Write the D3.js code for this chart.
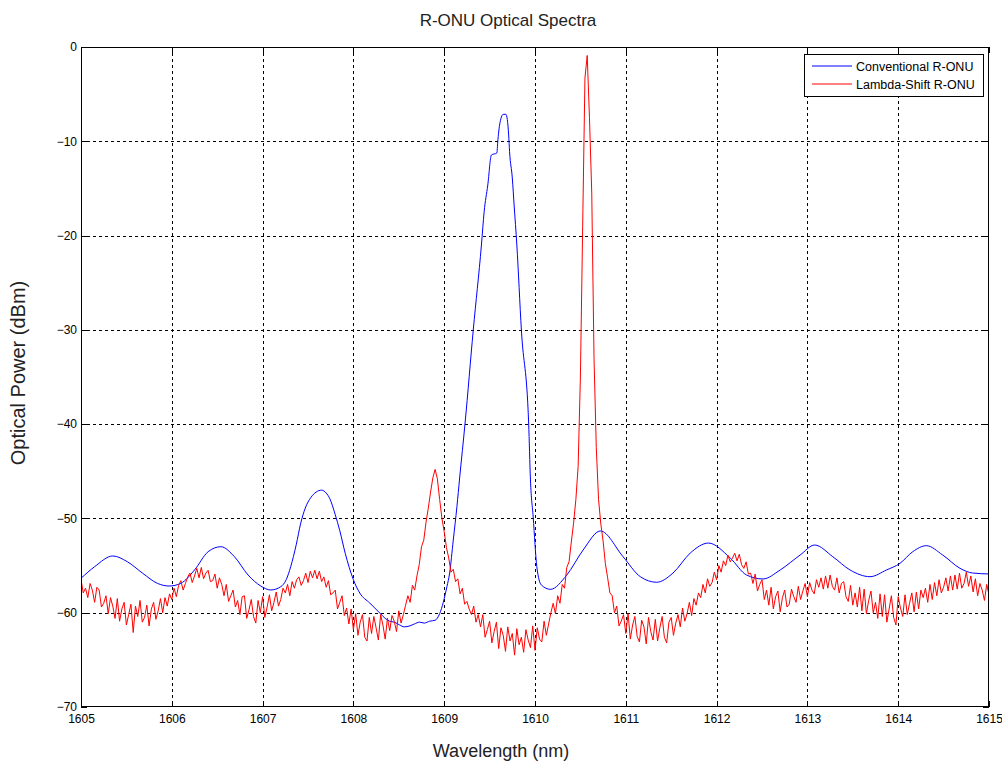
<!DOCTYPE html>
<html>
<head>
<meta charset="utf-8">
<script src="https://cdnjs.cloudflare.com/ajax/libs/d3/7.8.5/d3.min.js"></script>
<style>
  body { margin: 0; background: #fff; }
  svg { font-family: "Liberation Sans", Arial, sans-serif; }
  .grid line { stroke: #000; stroke-dasharray: 3,3; shape-rendering: crispEdges; }
  .axis path { display: none; }
  .axis line { stroke: #000; shape-rendering: crispEdges; }
  .axis text { font-size: 12px; fill: #000; font-family: "Liberation Sans", Arial, sans-serif; }
</style>
</head>
<body>
<div id="chart"></div>
<script>

var margin = { top: 47, right: 13, bottom: 55, left: 81 },
    width = 1002 - margin.left - margin.right,
    height = 762 - margin.top - margin.bottom;

var wavelengthTicks = [1605, 1606, 1607, 1608, 1609, 1610, 1611, 1612, 1613, 1614, 1615];
var powerTicks = [0, -10, -20, -30, -40, -50, -60, -70];

var seriesNames = ["Conventional R-ONU", "Lambda-Shift R-ONU"];
var seriesColors = ["#0000ff", "#ff0000"];

// Conventional R-ONU (blue)
var blueWl = [1605.00, 1605.15, 1605.35, 1605.51, 1605.68, 1605.84, 1605.97, 1606.10, 1606.25, 1606.40,
    1606.54, 1606.69, 1606.84, 1606.98, 1607.09, 1607.20, 1607.26, 1607.31, 1607.37, 1607.42,
    1607.47, 1607.53, 1607.59, 1607.65, 1607.70, 1607.74, 1607.80, 1607.85, 1607.91, 1608.00,
    1608.07, 1608.18, 1608.29, 1608.35, 1608.40, 1608.45, 1608.51, 1608.56, 1608.62, 1608.67,
    1608.73, 1608.78, 1608.84, 1608.90, 1608.95, 1609.03, 1609.06, 1609.10, 1609.14, 1609.17,
    1609.23, 1609.32, 1609.41, 1609.44, 1609.48, 1609.52, 1609.58, 1609.59, 1609.61, 1609.65,
    1609.68, 1609.71, 1609.72, 1609.75, 1609.77, 1609.80, 1609.85, 1609.93, 1609.95, 1609.98,
    1610.02, 1610.07, 1610.17, 1610.35, 1610.53, 1610.72, 1610.97, 1611.16, 1611.34, 1611.52,
    1611.71, 1611.91, 1612.15, 1612.33, 1612.51, 1612.70, 1612.92, 1613.08, 1613.28, 1613.47,
    1613.69, 1613.87, 1614.02, 1614.16, 1614.31, 1614.49, 1614.68, 1614.82, 1615.00];
var blueDbm = [-56.35, -55.12, -53.98, -54.59, -55.82, -56.88, -57.17, -56.88, -55.47, -53.53,
    -53.00, -54.06, -56.00, -57.17, -57.59, -57.24, -56.5, -55.1, -52.8, -50.5,
    -48.9, -47.8, -47.2, -47.0, -47.3, -47.9, -49.6, -51.3, -53.7, -56.5,
    -57.91, -58.97, -60.03, -60.6, -60.9, -61.0, -61.3, -61.5, -61.4, -61.2,
    -61.0, -61.1, -60.9, -60.8, -60.1, -57.24, -55.79, -52.29, -48.76, -45.71,
    -39.88, -30.02, -21.00, -17.47, -14.64, -11.45, -11.24, -10.04, -8.27, -7.14,
    -7.14, -9.33, -11.10, -13.89, -16.76, -21.00, -30.02, -39.88, -45.92, -49.85,
    -55.12, -57.06, -57.52, -56.00, -53.35, -51.33, -54.06, -56.18, -56.77, -55.79,
    -53.67, -52.61, -54.20, -56.00, -56.42, -55.47, -53.88, -52.82, -54.06, -55.47,
    -56.18, -55.47, -54.76, -53.53, -52.89, -53.88, -55.29, -55.79, -55.89];

// Lambda-Shift R-ONU (red), sampled every 0.025 nm from 1605 nm
var redStart = 1605, redStep = 0.025;
var redDbm = [
    -56.5, -57.9, -57.4, -58.4, -56.9, -57.6, -58.9, -57.3,
    -57.6, -59.4, -59.0, -58.2, -60.1, -58.4, -59.3, -60.6,
    -58.5, -60.9, -59.6, -58.9, -61.3, -60.2, -59.1, -62.1,
    -59.3, -60.4, -58.7, -61.0, -60.5, -59.2, -61.4, -59.6,
    -58.9, -60.7, -59.8, -58.5, -60.0, -58.4, -59.3, -58.0,
    -58.6, -57.4, -58.3, -57.1, -56.6, -57.6, -56.9, -56.2,
    -55.8, -56.8, -56.1, -55.3, -56.3, -55.2, -56.4, -55.8,
    -55.5, -56.7, -56.6, -55.9, -57.4, -56.3, -57.0, -58.2,
    -57.0, -58.8, -58.2, -57.6, -59.4, -58.7, -60.2, -58.3,
    -58.2, -60.6, -59.7, -58.6, -60.4, -61.1, -58.7, -60.0,
    -58.3, -60.5, -59.4, -58.1, -59.8, -58.9, -57.8, -59.3,
    -58.6, -57.4, -57.9, -57.0, -58.2, -56.7, -57.4, -56.5,
    -56.2, -57.1, -56.6, -55.8, -56.8, -55.6, -56.3, -55.5,
    -56.4, -55.6, -56.7, -56.2, -57.3, -56.6, -58.1, -57.9,
    -57.6, -59.6, -58.9, -58.2, -60.3, -59.5, -61.2, -59.6,
    -61.8, -60.1, -62.4, -61.0, -60.2, -62.6, -63.0, -60.5,
    -62.2, -60.4, -61.6, -62.9, -60.2, -61.3, -62.8, -60.6,
    -61.9, -60.3, -60.9, -62.0, -59.8, -61.1, -60.2, -59.2,
    -58.2, -58.9, -57.1, -57.6, -56.1, -54.9, -53.0, -52.3,
    -50.4, -48.9, -47.2, -45.7, -44.8, -45.8, -48.0, -50.0,
    -51.4, -53.1, -54.2, -55.7, -55.4, -56.7, -56.4, -58.0,
    -57.4, -59.1, -58.8, -59.6, -60.2, -59.3, -61.0, -60.2,
    -61.5, -60.2, -62.6, -61.8, -60.9, -63.2, -62.0, -61.0,
    -63.8, -61.6, -62.4, -64.1, -61.5, -63.0, -62.2, -64.5,
    -61.7, -63.4, -62.6, -64.2, -61.8, -62.9, -63.7, -61.4,
    -64.0, -61.6, -62.8, -63.1, -60.9, -62.4, -61.2, -60.0,
    -59.0, -60.1, -58.2, -59.0, -57.0, -57.4, -55.2, -54.6,
    -52.5, -50.5, -48.0, -44.5, -35.0, -19.0, -3.3, -0.9,
    -7.5, -15.5, -33.0, -42.5, -48.0, -50.6, -52.4, -54.8,
    -56.3, -57.9, -58.2, -60.0, -59.3, -61.4, -60.9, -60.2,
    -62.2, -60.1, -62.8, -61.3, -60.4, -62.5, -63.1, -60.8,
    -61.5, -63.3, -60.5, -62.0, -62.9, -60.7, -63.0, -61.6,
    -60.4, -62.6, -63.2, -61.0, -60.5, -62.4, -61.1, -60.2,
    -61.5, -59.5, -60.9, -60.1, -58.9, -60.3, -58.5, -59.2,
    -57.9, -58.4, -57.0, -57.9, -56.4, -57.2, -56.8, -55.7,
    -56.5, -55.0, -55.7, -54.5, -55.0, -53.9, -54.6, -54.2,
    -53.7, -54.5, -53.8, -54.9, -55.3, -54.6, -55.9, -55.8,
    -56.9, -55.9, -57.7, -57.0, -56.5, -58.6, -57.6, -59.2,
    -57.3, -59.6, -58.3, -57.7, -59.9, -58.4, -57.6, -59.4,
    -59.1, -57.5, -58.3, -58.9, -57.2, -58.6, -57.7, -56.9,
    -58.3, -56.8, -57.6, -58.0, -56.5, -57.3, -56.3, -57.5,
    -56.1, -57.4, -56.0, -57.2, -57.6, -56.3, -57.9, -56.9,
    -56.7, -58.3, -58.8, -57.1, -59.2, -57.9, -59.4, -57.3,
    -59.8, -57.5, -60.1, -58.7, -57.7, -60.0, -58.9, -60.6,
    -58.0, -60.4, -58.1, -61.0, -59.6, -58.2, -60.5, -61.3,
    -58.3, -59.5, -60.4, -58.1, -60.2, -59.0, -57.9, -59.9,
    -57.8, -59.6, -57.6, -58.4, -57.4, -58.9, -57.0, -58.6,
    -56.8, -58.2, -56.5, -57.9, -57.3, -56.3, -57.7, -56.1,
    -57.6, -56.0, -57.5, -55.8, -57.4, -56.9, -55.7, -57.2,
    -56.1, -57.8, -56.4, -58.2, -56.9, -57.6, -58.7, -57.0,
    -58.1];

var blueData = blueWl.map(function(w, i) { return { wl: w, dbm: blueDbm[i] }; });
var redData = redDbm.map(function(v, i) { return { wl: redStart + i * redStep, dbm: v }; });

var svg = d3.select("#chart").append("svg")
    .attr("width", width + margin.left + margin.right)
    .attr("height", height + margin.top + margin.bottom);

var g = svg.append("g")
    .attr("transform", "translate(" + margin.left + "," + margin.top + ")");

var x = d3.scaleLinear().domain([1605, 1615]).range([0, width]);
var y = d3.scaleLinear().domain([-70, 0]).range([height, 0]);

g.append("rect")
    .attr("width", width)
    .attr("height", height)
    .attr("fill", "#fff");

// dotted grid, inner ticks only
var grid = g.append("g").attr("class", "grid");
grid.selectAll(".vgrid")
    .data(wavelengthTicks.slice(1, -1))
    .enter().append("line")
    .attr("x1", function(d) { return Math.round(x(d)) + 0.5; })
    .attr("x2", function(d) { return Math.round(x(d)) + 0.5; })
    .attr("y1", 0)
    .attr("y2", height);
grid.selectAll(".hgrid")
    .data(powerTicks.slice(1, -1))
    .enter().append("line")
    .attr("y1", function(d) { return Math.round(y(d)) + 0.5; })
    .attr("y2", function(d) { return Math.round(y(d)) + 0.5; })
    .attr("x1", 0)
    .attr("x2", width);

g.append("clipPath").attr("id", "plotClip")
    .append("rect").attr("width", width).attr("height", height);

var line = d3.line()
    .x(function(d) { return x(d.wl); })
    .y(function(d) { return y(d.dbm); });

g.append("path")
    .datum(blueData)
    .attr("clip-path", "url(#plotClip)")
    .attr("fill", "none")
    .attr("stroke", seriesColors[0])
    .attr("stroke-width", 1)
    .attr("d", line.curve(d3.curveMonotoneX));

g.append("path")
    .datum(redData)
    .attr("clip-path", "url(#plotClip)")
    .attr("fill", "none")
    .attr("stroke", seriesColors[1])
    .attr("stroke-width", 1)
    .attr("d", line.curve(d3.curveLinear));

// axes with inward ticks
g.append("g")
    .attr("class", "axis")
    .attr("transform", "translate(0," + height + ")")
    .call(d3.axisBottom(x).tickValues(wavelengthTicks).tickFormat(d3.format("d")).tickSize(-6).tickPadding(7));

g.append("g")
    .attr("class", "axis")
    .call(d3.axisLeft(y).tickValues(powerTicks).tickFormat(d3.format("d")).tickSize(-6).tickPadding(4));

g.append("g")
    .attr("class", "axis")
    .call(d3.axisTop(x).tickValues(wavelengthTicks).tickFormat("").tickSize(-6));

g.append("g")
    .attr("class", "axis")
    .attr("transform", "translate(" + width + ",0)")
    .call(d3.axisRight(y).tickValues(powerTicks).tickFormat("").tickSize(-6));

g.append("rect")
    .attr("x", 0.5)
    .attr("y", 0.5)
    .attr("width", width - 1)
    .attr("height", height - 1)
    .attr("fill", "none")
    .attr("stroke", "#000")
    .attr("shape-rendering", "crispEdges");

// title and labels
svg.append("text")
    .attr("x", 508)
    .attr("y", 26)
    .attr("text-anchor", "middle")
    .style("font-size", "17px")
    .attr("fill", "#222")
    .text("R-ONU Optical Spectra");

svg.append("text")
    .attr("x", 501)
    .attr("y", 757)
    .attr("text-anchor", "middle")
    .style("font-size", "18px")
    .attr("fill", "#222")
    .text("Wavelength (nm)");

svg.append("text")
    .attr("text-anchor", "middle")
    .attr("transform", "translate(25,373)rotate(-90)")
    .style("font-size", "20px")
    .attr("fill", "#222")
    .text("Optical Power (dBm)");

// legend
var legend = svg.append("g").attr("transform", "translate(804,54)");
legend.append("rect")
    .attr("x", 0.5)
    .attr("y", 0.5)
    .attr("width", 179)
    .attr("height", 42)
    .attr("fill", "#fff")
    .attr("stroke", "#000")
    .attr("shape-rendering", "crispEdges");

var items = legend.selectAll(".item")
    .data(seriesNames)
    .enter().append("g")
    .attr("transform", function(d, i) { return "translate(0," + (12 + i * 18) + ")"; });

items.append("line")
    .attr("x1", 8)
    .attr("x2", 48)
    .attr("y1", 0)
    .attr("y2", 0)
    .attr("stroke", function(d, i) { return seriesColors[i]; });

items.append("text")
    .attr("x", 52)
    .attr("y", 0)
    .attr("dy", "0.36em")
    .style("font-size", "12.5px")
    .text(function(d) { return d; });

</script>
</body>
</html>
